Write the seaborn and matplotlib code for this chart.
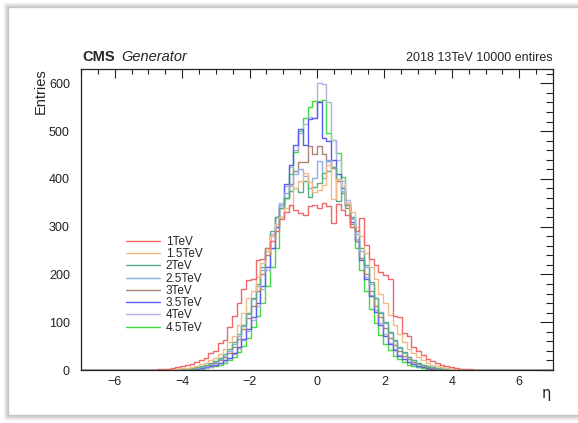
import numpy as np
import pandas as pd
import matplotlib
matplotlib.use("Agg")
import matplotlib.pyplot as plt
from matplotlib.patches import Rectangle
from matplotlib.lines import Line2D
import seaborn as sns

# ---------------- data ----------------
energies = ["1TeV", "1.5TeV", "2TeV", "2.5TeV", "3TeV", "3.5TeV", "4TeV", "4.5TeV"]
colors = ["#ee6a6a", "#f2bb85", "#5aae86", "#8eb0ea", "#a98576", "#5a5ef0", "#b2b2e0", "#3fdc3f"]

eta_min, eta_max, n_bins = -7.0, 7.0, 100
first_bin = 16   # first listed bin is centred at eta = -4.69

c_1tev = [2, 2, 3, 4, 6, 8, 10, 12, 16, 20, 26, 35, 40, 56, 62, 90, 112, 140, 170, 189,
          190, 230, 232, 255, 270, 290, 315, 330, 345, 335, 329, 325, 343, 346, 339, 350,
          343, 308, 348, 335, 325, 300, 290, 319, 262, 232, 220, 205, 199, 190, 112, 110,
          77, 72, 49, 40, 32, 24, 18, 14, 10, 8, 6, 4, 3, 2, 2, 1]
c_1p5tev = [1, 1, 2, 2, 3, 4, 5, 7, 9, 12, 15, 20, 26, 34, 45, 58, 72, 95, 120, 150,
            165, 195, 225, 250, 280, 305, 320, 340, 345, 380, 395, 412, 394, 373, 377, 388,
            430, 357, 400, 385, 350, 330, 300, 280, 245, 215, 190, 160, 140, 115, 95, 75,
            58, 45, 35, 27, 20, 15, 11, 8, 6, 5, 3, 2, 2, 1, 1, 0]
c_2tev = [0, 1, 1, 1, 2, 2, 3, 4, 6, 8, 10, 14, 19, 25, 33, 44, 58, 75, 95, 120,
          150, 180, 215, 255, 290, 320, 340, 360, 375, 380, 372, 395, 363, 384, 391, 412,
          416, 425, 353, 370, 345, 320, 290, 255, 220, 185, 150, 120, 100, 80, 62, 48,
          37, 28, 21, 15, 11, 8, 6, 5, 3, 2, 2, 1, 1, 1, 0, 0]
c_2p5tev = [0, 1, 1, 1, 2, 2, 3, 4, 5, 7, 9, 12, 17, 23, 30, 40, 55, 72, 92, 118,
            148, 175, 210, 250, 285, 320, 345, 370, 385, 410, 420, 405, 380, 402, 437, 402,
            440, 425, 400, 375, 350, 318, 285, 250, 215, 180, 150, 122, 98, 78, 60, 46,
            35, 27, 20, 15, 11, 8, 6, 4, 3, 2, 2, 1, 1, 0, 0, 0]
c_3tev = [0, 0, 1, 1, 1, 2, 2, 3, 4, 6, 8, 11, 15, 20, 27, 36, 48, 64, 85, 108,
          135, 165, 200, 240, 280, 320, 340, 360, 390, 416, 435, 435, 468, 452, 468, 452,
          437, 423, 395, 370, 340, 305, 270, 235, 200, 165, 135, 110, 88, 68, 52, 40,
          30, 22, 16, 12, 9, 6, 5, 3, 2, 2, 1, 1, 1, 0, 0, 0]
c_3p5tev = [0, 0, 0, 1, 1, 1, 2, 2, 3, 4, 6, 8, 11, 15, 20, 26, 35, 48, 65, 85,
            110, 140, 175, 215, 255, 300, 345, 390, 430, 470, 505, 470, 525, 528, 560, 485,
            480, 440, 410, 380, 345, 310, 270, 230, 190, 155, 122, 95, 72, 55, 41, 30,
            22, 16, 12, 9, 6, 5, 3, 2, 2, 1, 1, 1, 0, 0, 0, 0]
c_4tev = [0, 0, 0, 1, 1, 1, 2, 2, 3, 4, 5, 7, 10, 14, 19, 25, 34, 46, 62, 82,
          105, 135, 170, 210, 255, 300, 350, 385, 425, 460, 495, 515, 530, 528, 601, 598,
          560, 482, 440, 395, 355, 315, 275, 235, 195, 158, 125, 98, 75, 57, 43, 32,
          23, 17, 12, 9, 6, 4, 3, 2, 2, 1, 1, 1, 0, 0, 0, 0]
c_4p5tev = [0, 0, 0, 0, 1, 1, 1, 2, 2, 3, 4, 6, 8, 11, 15, 20, 27, 37, 50, 68,
            90, 112, 140, 175, 215, 255, 320, 360, 410, 457, 500, 528, 550, 564, 564, 566,
            497, 482, 455, 403, 350, 300, 255, 210, 165, 128, 98, 74, 55, 41, 30, 22,
            16, 11, 8, 6, 4, 3, 2, 2, 1, 1, 1, 0, 0, 0, 0, 0]

series = [c_1tev, c_1p5tev, c_2tev, c_2p5tev, c_3tev, c_3p5tev, c_4tev, c_4p5tev]

x_ticks = [-6, -4, -2, 0, 2, 4, 6]
y_ticks = [0, 100, 200, 300, 400, 500, 600]

# ---------------- build table ----------------
edges = np.linspace(eta_min, eta_max, n_bins + 1)
centers = 0.5 * (edges[:-1] + edges[1:])
rows = []
for name, vals in zip(energies, series):
    full = np.zeros(n_bins)
    full[first_bin:first_bin + len(vals)] = vals
    rows.append(pd.DataFrame({"eta": centers, "count": full, "energy": name}))
df = pd.concat(rows, ignore_index=True)

# ---------------- plot ----------------
sns.set_theme(style="white")
plt.rcParams["font.family"] = ["Liberation Sans", "DejaVu Sans"]

fig = plt.figure(figsize=(5.78, 4.23), dpi=100)
fig.patch.set_facecolor("white")

# soft screenshot-like shadow frame
for k, a in enumerate([0.05, 0.07, 0.10, 0.14, 0.20]):
    off = (5 - k) * 1.0
    fig.patches.append(Rectangle(((9 - off) / 578, (9 - off) / 423),
                                 (578) / 578, (406 + 2 * off) / 423,
                                 transform=fig.transFigure, facecolor="none",
                                 edgecolor="black", alpha=a, lw=1.0, zorder=0))
fig.patches.append(Rectangle((10 / 578, 10 / 423), 570 / 578, 403 / 423,
                             transform=fig.transFigure, facecolor="white",
                             edgecolor="none", zorder=0.5))

ax = fig.add_axes([81 / 578, 1 - 370 / 423, 472 / 578, 301 / 423])
ax.set_zorder(3)
ax.patch.set_alpha(0)
palette = dict(zip(energies, colors))
sns.histplot(data=df, x="eta", weights="count", hue="energy", hue_order=energies,
             bins=n_bins, binrange=(eta_min, eta_max), element="step", fill=False,
             palette=palette, linewidth=1.0, ax=ax, legend=False)

ax.set_xlim(eta_min, eta_max)
ax.set_ylim(0, 630)
ax.set_xticks(x_ticks)
ax.set_xticklabels([("\u2212" + str(abs(t))) if t < 0 else str(t) for t in x_ticks])
ax.set_yticks(y_ticks)
ax.set_xticks(np.arange(-7, 7.01, 0.5), minor=True)
ax.set_yticks(np.arange(0, 631, 20), minor=True)
ax.tick_params(axis="both", which="both", direction="in", top=True, right=True,
               colors="#222222", labelsize=9, width=0.8)
ax.tick_params(axis="y", which="major", length=9.5, pad=8)
ax.tick_params(axis="y", which="minor", length=4.8)
ax.tick_params(axis="x", which="major", length=6.5, pad=4)
ax.tick_params(axis="x", which="minor", length=3.3)
for s in ax.spines.values():
    s.set_color("#222222")
    s.set_linewidth(0.9)

ax.set_xlabel("")
ax.set_ylabel("")
fig.text(551 / 578, 1 - 398 / 423, "\u03b7", ha="right", va="baseline", fontsize=10.5,
         family=["DejaVu Sans"], zorder=4)
fig.text(41 / 578, 1 - 68 / 423, "Entries", rotation=90, ha="center", va="top",
         fontsize=10.5, zorder=4)

fig.text(82 / 578, 1 - 61 / 423, "CMS", ha="left", va="baseline", fontsize=10.5,
         fontweight="bold", zorder=4)
fig.text(121 / 578, 1 - 61 / 423, "Generator", ha="left", va="baseline", fontsize=10.5,
         fontstyle="italic", zorder=4)
fig.text(553 / 578, 1 - 61 / 423, "2018 13TeV 10000 entires", ha="right", va="baseline",
         fontsize=9, zorder=4)

handles = [Line2D([0], [0], color=c, lw=1.0) for c in colors]
leg = ax.legend(handles, energies, loc="upper left",
                bbox_to_anchor=((126 - 81) / 472, (370 - 236) / 301),
                frameon=False, fontsize=8.5, handlelength=2.9, handletextpad=0.45,
                labelspacing=0.02, borderaxespad=0, borderpad=0)

fig.savefig("out.png", dpi=100)
